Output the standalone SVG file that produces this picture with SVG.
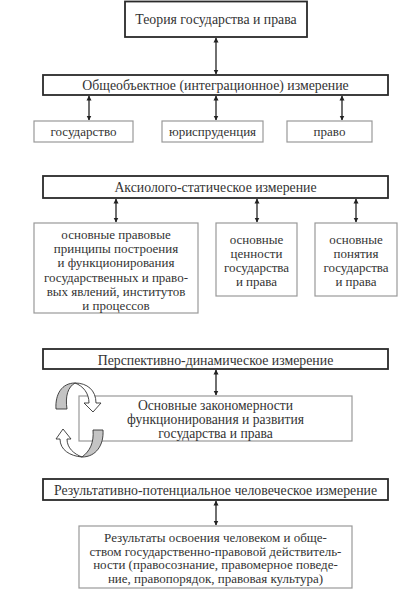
<svg xmlns="http://www.w3.org/2000/svg" width="419" height="598" viewBox="0 0 419 598">
<style>
text{font-family:"Liberation Serif","DejaVu Serif",serif;font-size:13px;fill:#333;text-anchor:middle}
.h{font-size:13.8px}
.big{font-size:13.6px}
.main{fill:#fff;stroke:#2a2a2a;stroke-width:1.8}
.sub{fill:#fff;stroke:#999;stroke-width:1.2}
.conn{stroke:#222;stroke-width:1.3;fill:none;marker-start:url(#ah);marker-end:url(#ah)}
.grey{fill:#c4c4c4;stroke:#333;stroke-width:0.9}
.white{fill:#fff;stroke:#333;stroke-width:0.9}
</style>
<defs>
<marker id="ah" viewBox="0 0 10 10" refX="9" refY="5" markerWidth="5" markerHeight="6" orient="auto-start-reverse" markerUnits="userSpaceOnUse">
<path d="M0,0 L10,5 L0,10 Z" fill="#222"/>
</marker>
</defs>
<rect width="419" height="598" fill="#fff"/>
<g id="connectors">
<line class="conn" x1="216" y1="38" x2="216" y2="74"/>
<line class="conn" x1="89" y1="96" x2="89" y2="120"/>
<line class="conn" x1="216" y1="96" x2="216" y2="120"/>
<line class="conn" x1="342" y1="96" x2="342" y2="120"/>
<line class="conn" x1="116" y1="199" x2="116" y2="222"/>
<line class="conn" x1="257" y1="199" x2="257" y2="222"/>
<line class="conn" x1="356" y1="199" x2="356" y2="222"/>
<line class="conn" x1="216" y1="370" x2="216" y2="395"/>
<line class="conn" x1="216" y1="501" x2="216" y2="525"/>
</g>
<g id="theory"><rect class="main" x="125" y="1.5" width="182" height="35.5"/><text class="h" x="216" y="24">Теория государства и права</text></g>
<g id="obsheobj"><rect class="main" x="43" y="75" width="345" height="20"/><text class="h" x="215.5" y="89.5">Общеобъектное (интеграционное) измерение</text></g>
<g id="gosudarstvo"><rect class="sub" x="34" y="121" width="99" height="21"/><text x="83.5" y="136">государство</text></g>
<g id="jurisprudence"><rect class="sub" x="162" y="121" width="101" height="21"/><text x="212.5" y="136">юриспруденция</text></g>
<g id="pravo"><rect class="sub" x="287" y="121" width="85" height="21"/><text x="329.5" y="136">право</text></g>
<g id="axiolog"><rect class="main" x="43" y="176" width="345" height="22"/><text class="h" x="215.5" y="192">Аксиолого-статическое измерение</text></g>
<g id="principles"><rect class="sub" x="34" y="223" width="164" height="90"/>
<text x="116" y="239">основные правовые</text>
<text x="116" y="253">принципы построения</text>
<text x="116" y="267">и функционирования</text>
<text x="116" y="282">государственных и право-</text>
<text x="116" y="296">вых явлений, институтов</text>
<text x="116" y="310">и процессов</text></g>
<g id="values"><rect class="sub" x="216" y="223" width="81" height="73"/>
<text x="256.5" y="244">основные</text>
<text x="256.5" y="258">ценности</text>
<text x="256.5" y="272">государства</text>
<text x="256.5" y="286">и права</text></g>
<g id="concepts"><rect class="sub" x="315" y="223" width="82" height="73"/>
<text x="356" y="244">основные</text>
<text x="356" y="258">понятия</text>
<text x="356" y="272">государства</text>
<text x="356" y="286">и права</text></g>
<g id="perspective"><rect class="main" x="43" y="349" width="345" height="20"/><text class="h" x="215.5" y="364.5">Перспективно-динамическое измерение</text></g>
<g id="regularities"><rect class="sub" x="79" y="396" width="273" height="45"/>
<text class="big" x="215.5" y="409.5">Основные закономерности</text>
<text class="big" x="215.5" y="424">функционирования и развития</text>
<text class="big" x="215.5" y="438">государства и права</text></g>
<g id="cycle">
<path class="grey" d="M75,383 C62,383 55,394 56,409 L67,409 C65,396 68,387 75,383 Z"/>
<path class="white" d="M75,383 C87,383 96,390 96,403 L101,403 L93,412 L84,403 L89,403 C89,393 83,386 75,383 Z"/>
<path class="grey" d="M82,457 C96,457 104,445 103,430 L93,430 C94,443 90,451 82,457 Z"/>
<path class="white" d="M82,457 C70,456 60,450 60,439 L56,439 L63,429 L71,439 L67,439 C67,448 74,454 82,457 Z"/>
</g>
<g id="result"><rect class="main" x="43" y="479" width="345" height="21"/><text class="h" x="215.5" y="494.5">Результативно-потенциальное человеческое измерение</text></g>
<g id="outcomes"><rect class="sub" x="79" y="526" width="273" height="62"/>
<text x="215.5" y="542">Результаты освоения человеком и обще-</text>
<text x="215.5" y="555.5">ством государственно-правовой действитель-</text>
<text x="215.5" y="569">ности (правосознание, правомерное поведе-</text>
<text x="215.5" y="582.5">ние, правопорядок, правовая культура)</text></g>
</svg>
